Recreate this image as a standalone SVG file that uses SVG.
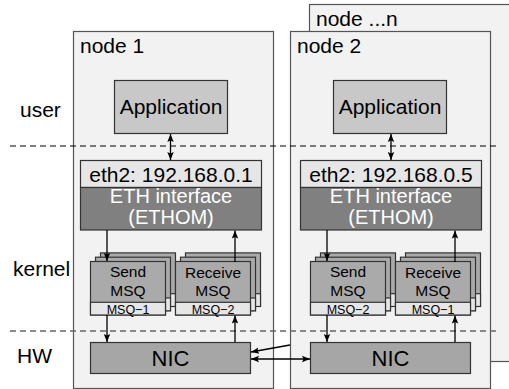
<svg xmlns="http://www.w3.org/2000/svg" width="509" height="389" viewBox="0 0 509 389">
<style>
text{font-family:"Liberation Sans",Arial,Helvetica,sans-serif;fill:#000}
.node{fill:#f2f2f2;stroke:#555;stroke-width:1.2}
.app{fill:#c8c8c8;stroke:#333;stroke-width:1.2}
.ethtop{fill:#e6e6e6;stroke:#333;stroke-width:1.2}
.ethbot{fill:#808080;stroke:#333;stroke-width:1.2}
.msq{fill:#aaaaaa;stroke:#333;stroke-width:1.2}
.lbl{fill:#e6e6e6;stroke:#333;stroke-width:1.2}
.nic{fill:#a6a6a6;stroke:#333;stroke-width:1.2}
.big{font-size:21px}
.eth{font-size:20px;text-anchor:middle;fill:#fff}
.mid{font-size:15.5px;text-anchor:middle}
.sm{font-size:12.5px;text-anchor:middle}
.c{text-anchor:middle}
.dash{stroke:#000;stroke-width:1;stroke-dasharray:6 4;fill:none}
.dash2{stroke:#666;stroke-width:1.4;stroke-dasharray:6 4;fill:none}
.con{stroke:#000;stroke-width:1.3;fill:none}
</style>
<defs>
<marker id="ah" markerUnits="userSpaceOnUse" markerWidth="8" markerHeight="8" viewBox="0 0 8 8" refX="8" refY="4" orient="auto-start-reverse">
<path d="M0,0.8 L8,4 L0,7.2 L1.5,4 Z" fill="#000"/>
</marker>
<g id="stack">
<rect x="10" y="-8.6" width="75" height="53.5" class="msq"/>
<rect x="10" y="32.2" width="75" height="12.8" class="lbl"/>
<rect x="5" y="-4.3" width="75" height="53.5" class="msq"/>
<rect x="5" y="36.5" width="75" height="12.8" class="lbl"/>
<rect x="0" y="0" width="75" height="53.5" class="msq"/>
<rect x="0" y="40.8" width="75" height="12.7" class="lbl"/>
</g>
</defs>

<g id="labels">
<text x="20" y="117" class="big">user</text>
<text x="13" y="276" class="big">kernel</text>
<text x="17" y="363" class="big">HW</text>
</g>

<g id="node-n">
<rect x="309.5" y="4.5" width="220" height="357" class="node"/>
<text x="316" y="26" class="big">node ...n</text>
</g>

<g id="node1">
<rect x="73.5" y="31.5" width="200" height="357" class="node"/>
<text x="80" y="53" class="big">node 1</text>
</g>

<g id="node2">
<rect x="290.5" y="31.5" width="200" height="357" class="node"/>
<text x="297" y="53" class="big">node 2</text>
</g>

<g id="layers">
<line x1="10" y1="146" x2="496" y2="146" class="dash"/>
<line x1="10" y1="331" x2="496" y2="331" class="dash2"/>
</g>

<g id="app1">
<rect x="114.5" y="80.5" width="113" height="53" class="app"/>
<text x="171" y="114" class="big c">Application</text>
</g>
<g id="app2">
<rect x="333.5" y="80.5" width="113" height="53" class="app"/>
<text x="390" y="114" class="big c">Application</text>
</g>

<g id="eth1">
<rect x="80.5" y="160.5" width="181" height="27" class="ethtop"/>
<rect x="80.5" y="187.5" width="181" height="42.5" class="ethbot"/>
<text x="171" y="182" class="big c">eth2: 192.168.0.1</text>
<text x="171" y="202.5" class="eth">ETH interface</text>
<text x="171" y="224" class="eth">(ETHOM)</text>
</g>
<g id="eth2">
<rect x="300.5" y="160.5" width="181" height="27" class="ethtop"/>
<rect x="300.5" y="187.5" width="181" height="42.5" class="ethbot"/>
<text x="391" y="182" class="big c">eth2: 192.168.0.5</text>
<text x="391" y="202.5" class="eth">ETH interface</text>
<text x="391" y="224" class="eth">(ETHOM)</text>
</g>

<g id="send1">
<use href="#stack" x="90.5" y="261.5"/>
<text x="128" y="276.5" class="mid">Send</text>
<text x="128" y="295.5" class="mid">MSQ</text>
<text x="128" y="313.5" class="sm">MSQ−1</text>
</g>
<g id="recv1">
<use href="#stack" x="175.5" y="261.5"/>
<text x="213" y="278" class="mid">Receive</text>
<text x="213" y="296" class="mid">MSQ</text>
<text x="213" y="313.5" class="sm">MSQ−2</text>
</g>
<g id="send2">
<use href="#stack" x="310.5" y="261.5"/>
<text x="348" y="276.5" class="mid">Send</text>
<text x="348" y="295.5" class="mid">MSQ</text>
<text x="348" y="313.5" class="sm">MSQ−2</text>
</g>
<g id="recv2">
<use href="#stack" x="395.5" y="261.5"/>
<text x="433" y="278" class="mid">Receive</text>
<text x="433" y="296" class="mid">MSQ</text>
<text x="433" y="313.5" class="sm">MSQ−1</text>
</g>

<g id="nic1">
<rect x="90.5" y="342.5" width="160" height="31" class="nic"/>
<text x="170.5" y="366" class="big c" style="font-size:22px">NIC</text>
</g>
<g id="nic2">
<rect x="310.5" y="342.5" width="160" height="31" class="nic"/>
<text x="390.5" y="366" class="big c" style="font-size:22px">NIC</text>
</g>

<g id="connectors">
<line x1="170.5" y1="134" x2="170.5" y2="160" class="con" marker-start="url(#ah)" marker-end="url(#ah)"/>
<line x1="391" y1="134" x2="391" y2="160" class="con" marker-start="url(#ah)" marker-end="url(#ah)"/>
<line x1="107" y1="230" x2="107" y2="261" class="con" marker-end="url(#ah)"/>
<line x1="235" y1="262" x2="235" y2="230.5" class="con" marker-end="url(#ah)"/>
<line x1="327" y1="230" x2="327" y2="261" class="con" marker-end="url(#ah)"/>
<line x1="455" y1="262" x2="455" y2="230.5" class="con" marker-end="url(#ah)"/>
<line x1="107" y1="315" x2="107" y2="342" class="con" marker-end="url(#ah)"/>
<line x1="235" y1="342" x2="235" y2="315.5" class="con" marker-end="url(#ah)"/>
<line x1="327" y1="315" x2="327" y2="342" class="con" marker-end="url(#ah)"/>
<line x1="455" y1="342" x2="455" y2="315.5" class="con" marker-end="url(#ah)"/>
<line x1="251" y1="359" x2="310" y2="359" class="con" marker-start="url(#ah)" marker-end="url(#ah)"/>
<line x1="290" y1="345" x2="251" y2="352" class="con" marker-end="url(#ah)"/>
</g>
</svg>
